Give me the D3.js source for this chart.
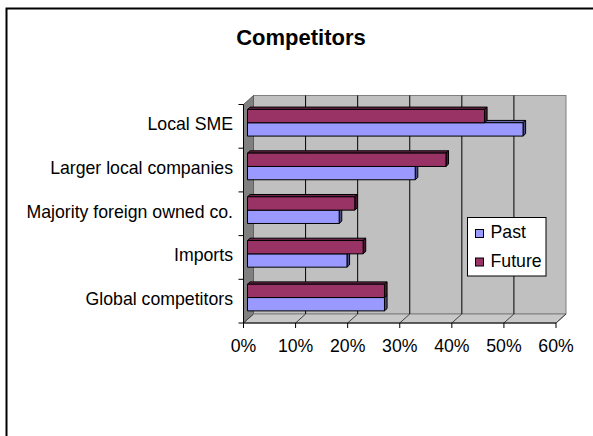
<!DOCTYPE html>
<html>
<head>
<meta charset="utf-8">
<script src="https://cdn.jsdelivr.net/npm/d3@7"></script>
<style>
  html, body { margin: 0; padding: 0; background: #fff; }
  svg { display: block; font-family: "Liberation Sans", Arial, sans-serif; }
</style>
</head>
<body>
<svg id="chart" width="593" height="436"></svg>
<script>
// Categories, top to bottom
const categories = [
  "Local SME",
  "Larger local companies",
  "Majority foreign owned co.",
  "Imports",
  "Global competitors"
];
const seriesNames = ["Past", "Future"];
const pastValues   = [0.529, 0.322, 0.176, 0.191, 0.263];
const futureValues = [0.455, 0.381, 0.206, 0.222, 0.263];
const xTicks = [0, 0.1, 0.2, 0.3, 0.4, 0.5, 0.6];
const colors = { Past: "#9999ff", Future: "#993366" };
const sideColors = { Past: "#4d4d80", Future: "#4d1a33" };
const topColors = { Past: "#6b6bb3", Future: "#6b2447" };

const labelSize = 17.7;

const svg = d3.select("#chart");

// Chart frame
svg.append("rect")
  .attr("x", 6.5).attr("y", 8.5)
  .attr("width", 620).attr("height", 460)
  .attr("fill", "#fff").attr("stroke", "#000").attr("stroke-width", 2);

// Title
svg.append("text")
  .attr("x", 301).attr("y", 45)
  .attr("text-anchor", "middle")
  .attr("font-size", 22).attr("font-weight", "bold")
  .text("Competitors");

// Front-plane scales
const x = d3.scaleLinear().domain([0, 0.6]).range([243.5, 556]);
const y = d3.scaleBand().domain(categories).range([104.5, 323])
  .paddingInner(0.39).paddingOuter(0.195);
const ySeries = d3.scaleBand().domain(["Future", "Past"]).range([0, y.bandwidth()]);

// Depth of the 3D box and position of the bars inside it
const depth = { dx: 10, dy: -9 };
const barFront = 0.4, barBack = 0.66;
const off = f => [depth.dx * f, depth.dy * f];

const y0 = 104.5, y1 = 323;
const xl = x(0), xr = x(0.6);

// Back wall
svg.append("rect")
  .attr("x", xl + depth.dx).attr("y", y0 + depth.dy)
  .attr("width", xr - xl).attr("height", y1 - y0)
  .attr("fill", "#c0c0c0").attr("stroke", "#808080");

// Left wall
svg.append("polygon")
  .attr("points", [[xl, y0], [xl + depth.dx, y0 + depth.dy], [xl + depth.dx, y1 + depth.dy], [xl, y1]].join(" "))
  .attr("fill", "#808080").attr("stroke", "#606060");

// Floor
svg.append("polygon")
  .attr("points", [[xl, y1], [xr, y1], [xr + depth.dx, y1 + depth.dy], [xl + depth.dx, y1 + depth.dy]].join(" "))
  .attr("fill", "#c8c8c8").attr("stroke", "#808080");

// Wall gridlines and floor lines
const grid = svg.append("g");
xTicks.slice(1, -1).forEach(t => {
  grid.append("line")
    .attr("x1", x(t) + depth.dx).attr("x2", x(t) + depth.dx)
    .attr("y1", y0 + depth.dy).attr("y2", y1 + depth.dy)
    .attr("stroke", "#000");
});
xTicks.forEach(t => {
  grid.append("line")
    .attr("x1", x(t)).attr("y1", y1)
    .attr("x2", x(t) + depth.dx).attr("y2", y1 + depth.dy)
    .attr("stroke", "#404040");
});

// Bars
const rows = [];
categories.forEach((c, i) => {
  rows.push({ cat: c, s: "Past", v: pastValues[i] });
  rows.push({ cat: c, s: "Future", v: futureValues[i] });
});
// bottom categories first, Past before Future within a pair
rows.sort((a, b) => d3.descending(y(a.cat), y(b.cat)) || (a.s === "Past" ? -1 : 1));

const [fx, fy] = off(barFront);
const [bx, by] = off(barBack);
const ddx = bx - fx, ddy = by - fy;

const bars = svg.append("g");
rows.forEach(d => {
  const left = x(0) + fx;
  const right = x(d.v) + fx;
  const top = y(d.cat) + ySeries(d.s) + fy;
  const h = ySeries.bandwidth();
  const g = bars.append("g").attr("stroke", "#000").attr("stroke-width", 1).attr("stroke-linejoin", "round");
  // top face
  g.append("polygon")
    .attr("points", [[left, top], [left + ddx, top + ddy], [right + ddx, top + ddy], [right, top]].join(" "))
    .attr("fill", topColors[d.s]);
  // end face
  g.append("polygon")
    .attr("points", [[right, top], [right + ddx, top + ddy], [right + ddx, top + h + ddy], [right, top + h]].join(" "))
    .attr("fill", sideColors[d.s]);
  // front face
  g.append("rect")
    .attr("x", left).attr("y", top)
    .attr("width", right - left).attr("height", h)
    .attr("fill", colors[d.s]);
});

// Category axis
const yAxis = svg.append("g");
yAxis.append("line")
  .attr("x1", xl).attr("x2", xl).attr("y1", y0).attr("y2", y1)
  .attr("stroke", "#000");
const bounds = categories.map(c => y(c) - y.step() * y.paddingInner() / 2).concat([y1]);
bounds.forEach(b => {
  yAxis.append("line")
    .attr("x1", xl - 5).attr("x2", xl).attr("y1", b).attr("y2", b)
    .attr("stroke", "#000");
});
categories.forEach(c => {
  yAxis.append("text")
    .attr("x", 233).attr("y", y(c) + y.bandwidth() / 2 + 4)
    .attr("text-anchor", "end").attr("font-size", labelSize)
    .text(c);
});

// Value axis
const xAxis = svg.append("g");
xAxis.append("line")
  .attr("x1", xl).attr("x2", xr).attr("y1", y1).attr("y2", y1)
  .attr("stroke", "#000");
xTicks.forEach(t => {
  xAxis.append("line")
    .attr("x1", x(t)).attr("x2", x(t)).attr("y1", y1).attr("y2", y1 + 5)
    .attr("stroke", "#000");
  xAxis.append("text")
    .attr("x", x(t)).attr("y", 351.5)
    .attr("text-anchor", "middle").attr("font-size", labelSize)
    .text(d3.format(".0%")(t));
});

// Legend
const legend = svg.append("g");
legend.append("rect")
  .attr("x", 467.5).attr("y", 217.5).attr("width", 78.5).attr("height", 58.5)
  .attr("fill", "#fff").attr("stroke", "#000");
seriesNames.forEach((s, i) => {
  const ly = 229.5 + i * 28.5;
  legend.append("rect")
    .attr("x", 475.5).attr("y", ly).attr("width", 8).attr("height", 8)
    .attr("fill", colors[s]).attr("stroke", "#000");
  legend.append("text")
    .attr("x", 490.5).attr("y", ly + 8.5).attr("font-size", labelSize)
    .text(s);
});
</script>
</body>
</html>
